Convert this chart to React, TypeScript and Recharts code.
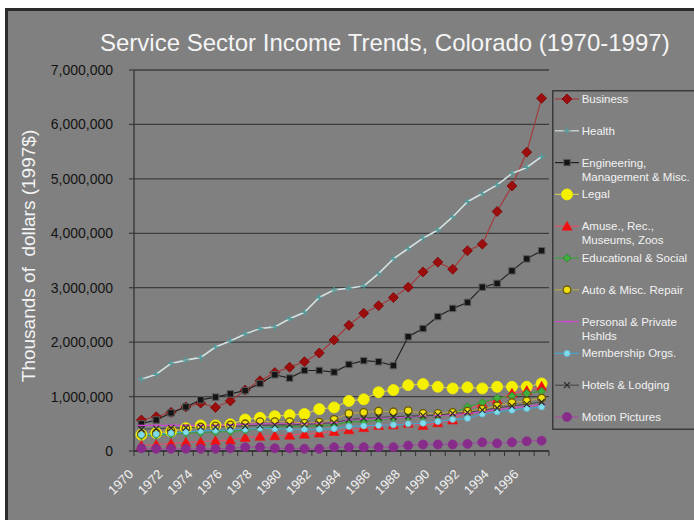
import React from 'react';
import { LineChart, Line, XAxis, YAxis, CartesianGrid, Legend } from 'recharts';

const years = [1970, 1971, 1972, 1973, 1974, 1975, 1976, 1977, 1978, 1979, 1980, 1981, 1982, 1983, 1984, 1985, 1986, 1987, 1988, 1989, 1990, 1991, 1992, 1993, 1994, 1995, 1996, 1997];
const xTickLabels = ['1970', '1972', '1974', '1976', '1978', '1980', '1982', '1984', '1986', '1988', '1990', '1992', '1994', '1996'];
const yTicks = [0, 1000000, 2000000, 3000000, 4000000, 5000000, 6000000, 7000000];

const business = [570000, 630000, 710000, 810000, 880000, 800000, 920000, 1120000, 1290000, 1440000, 1540000, 1640000, 1800000, 2040000, 2310000, 2530000, 2670000, 2820000, 3010000, 3290000, 3470000, 3340000, 3680000, 3800000, 4400000, 4870000, 5490000, 6480000];
const health = [1320000, 1410000, 1610000, 1670000, 1720000, 1910000, 2020000, 2150000, 2250000, 2280000, 2430000, 2550000, 2820000, 2960000, 2990000, 3030000, 3260000, 3530000, 3720000, 3910000, 4060000, 4300000, 4580000, 4730000, 4890000, 5100000, 5210000, 5410000];
const engineering = [500000, 570000, 700000, 810000, 940000, 990000, 1050000, 1110000, 1240000, 1400000, 1340000, 1480000, 1480000, 1450000, 1590000, 1660000, 1640000, 1570000, 2100000, 2250000, 2470000, 2620000, 2730000, 3010000, 3080000, 3310000, 3530000, 3680000];
const legal = [300000, 330000, 360000, 420000, 470000, 470000, 490000, 580000, 610000, 640000, 660000, 680000, 770000, 800000, 920000, 950000, 1080000, 1120000, 1210000, 1230000, 1180000, 1150000, 1170000, 1150000, 1180000, 1180000, 1180000, 1240000];
const amuse = [100000, 120000, 140000, 160000, 170000, 190000, 200000, 250000, 270000, 280000, 290000, 310000, 330000, 360000, 390000, 430000, 470000, 480000, 510000, 470000, 520000, 570000, 760000, 870000, 940000, 1060000, 1110000, 1190000];
const educational = [280000, 290000, 310000, 330000, 340000, 350000, 360000, 380000, 420000, 440000, 450000, 450000, 460000, 480000, 540000, 540000, 570000, 600000, 620000, 630000, 650000, 690000, 810000, 890000, 970000, 1010000, 1060000, 1100000];
const autoRepair = [310000, 330000, 370000, 410000, 440000, 460000, 480000, 500000, 540000, 540000, 540000, 510000, 530000, 580000, 690000, 710000, 730000, 720000, 740000, 690000, 690000, 710000, 730000, 770000, 830000, 890000, 920000, 970000];
const personal = [470000, 470000, 470000, 470000, 470000, 470000, 480000, 490000, 500000, 500000, 500000, 500000, 510000, 520000, 570000, 590000, 600000, 610000, 620000, 640000, 650000, 670000, 690000, 720000, 760000, 790000, 820000, 850000];
const membership = [300000, 310000, 330000, 350000, 370000, 380000, 390000, 400000, 420000, 410000, 400000, 400000, 400000, 410000, 450000, 460000, 470000, 480000, 500000, 510000, 540000, 580000, 600000, 680000, 720000, 750000, 780000, 810000];
const hotels = [400000, 410000, 420000, 430000, 440000, 440000, 450000, 460000, 470000, 480000, 480000, 490000, 500000, 520000, 580000, 600000, 620000, 630000, 640000, 650000, 660000, 690000, 710000, 750000, 790000, 830000, 860000, 900000];
const motion = [50000, 40000, 40000, 40000, 40000, 40000, 50000, 70000, 70000, 50000, 50000, 40000, 40000, 70000, 70000, 70000, 70000, 70000, 100000, 120000, 120000, 120000, 130000, 160000, 140000, 160000, 180000, 190000];

const seriesNames = ['Business', 'Health', 'Engineering, Management & Misc.', 'Legal', 'Amuse., Rec., Museums, Zoos', 'Educational & Social', 'Auto & Misc. Repair', 'Personal & Private Hshlds', 'Membership Orgs.', 'Hotels & Lodging', 'Motion Pictures'];
const legendLabels = ['Business', 'Health', 'Engineering,\nManagement & Misc.', 'Legal', 'Amuse., Rec.,\nMuseums, Zoos', 'Educational & Social', 'Auto & Misc. Repair', 'Personal & Private\nHshlds', 'Membership Orgs.', 'Hotels & Lodging', 'Motion Pictures'];

type Shape = 'diamond' | 'plus' | 'square' | 'bigcircle' | 'triangle' | 'greendiamond' | 'ring' | 'dash' | 'smallcircle' | 'cross' | 'circle';

interface SeriesDef {
  key: string;
  values: number[];
  line: string;
  lineWidth: number;
  shape: Shape;
  fill: string;
  stroke: string;
  size: number;
}

const series: SeriesDef[] = [
  { key: 'business', values: business, line: '#a33c3c', lineWidth: 1.2, shape: 'diamond', fill: '#9c0e0e', stroke: '#7a0505', size: 5 },
  { key: 'health', values: health, line: '#d2e2e2', lineWidth: 1.6, shape: 'plus', fill: 'none', stroke: '#4f9c9c', size: 3.5 },
  { key: 'engineering', values: engineering, line: '#1e1e1e', lineWidth: 1.1, shape: 'square', fill: '#141414', stroke: '#5a5a5a', size: 3.2 },
  { key: 'legal', values: legal, line: '#cfc45a', lineWidth: 1.2, shape: 'bigcircle', fill: '#f4f000', stroke: '#f4f000', size: 5.5 },
  { key: 'amuse', values: amuse, line: '#e0506a', lineWidth: 1.2, shape: 'triangle', fill: '#f01010', stroke: '#f01010', size: 5 },
  { key: 'educational', values: educational, line: '#3c9e3c', lineWidth: 1.2, shape: 'greendiamond', fill: '#3fae3f', stroke: '#2a8a2a', size: 4 },
  { key: 'auto', values: autoRepair, line: '#b2a449', lineWidth: 1.2, shape: 'ring', fill: '#f0e010', stroke: '#6a5808', size: 3.8 },
  { key: 'personal', values: personal, line: '#d048d0', lineWidth: 1.2, shape: 'dash', fill: 'none', stroke: '#d048d0', size: 4 },
  { key: 'membership', values: membership, line: '#44a4cc', lineWidth: 1.2, shape: 'smallcircle', fill: '#80dcec', stroke: '#60c0d8', size: 3 },
  { key: 'hotels', values: hotels, line: '#4a4a4a', lineWidth: 1.1, shape: 'cross', fill: 'none', stroke: '#2a2a2a', size: 3 },
  { key: 'motion', values: motion, line: '#a050a0', lineWidth: 1.2, shape: 'circle', fill: '#882c8c', stroke: '#882c8c', size: 4.5 },
];

const data = years.map((year, i) => {
  const row: Record<string, number> = { year };
  series.forEach((s) => {
    row[s.key] = s.values[i];
  });
  return row;
});

const xBoundaries = [...years.map((y) => y - 0.5), years[years.length - 1] + 0.5];

function Marker({ shape, cx, cy, fill, stroke, size }: { shape: Shape; cx: number; cy: number; fill: string; stroke: string; size: number }) {
  if (cx == null || cy == null || isNaN(cx) || isNaN(cy)) return <g />;
  switch (shape) {
    case 'diamond':
    case 'greendiamond':
      return <path d={`M${cx},${cy - size}L${cx + size},${cy}L${cx},${cy + size}L${cx - size},${cy}Z`} fill={fill} stroke={stroke} strokeWidth={0.8} />;
    case 'plus':
      return <path d={`M${cx - size},${cy}H${cx + size}M${cx},${cy - size}V${cy + size}`} stroke={stroke} strokeWidth={1.3} fill="none" />;
    case 'square':
      return <rect x={cx - size} y={cy - size} width={size * 2} height={size * 2} fill={fill} stroke={stroke} strokeWidth={1} />;
    case 'bigcircle':
    case 'circle':
    case 'smallcircle':
      return <circle cx={cx} cy={cy} r={size} fill={fill} stroke={stroke} strokeWidth={0.8} />;
    case 'ring':
      return <circle cx={cx} cy={cy} r={size} fill={fill} stroke={stroke} strokeWidth={1.3} />;
    case 'triangle':
      return <path d={`M${cx},${cy - size}L${cx + size},${cy + size * 0.8}L${cx - size},${cy + size * 0.8}Z`} fill={fill} stroke={stroke} strokeWidth={0.6} />;
    case 'dash':
      return <path d={`M${cx - size},${cy}H${cx + size}`} stroke={stroke} strokeWidth={1.5} fill="none" />;
    case 'cross':
      return <path d={`M${cx - size},${cy - size}L${cx + size},${cy + size}M${cx - size},${cy + size}L${cx + size},${cy - size}`} stroke={stroke} strokeWidth={1.2} fill="none" />;
    default:
      return <g />;
  }
}

const FONT = '"Liberation Sans", Arial, sans-serif';

function XTick(props: any) {
  const { x, y, payload } = props;
  const yr = String(payload.value + 0.5);
  if (!xTickLabels.includes(yr)) return <g />;
  const ty = y + 17;
  return (
    <text x={x} y={ty} transform={`rotate(-45 ${x} ${ty})`} textAnchor="end" fill="#f2f2f2" fontSize={13} fontFamily={FONT}>
      {yr}
    </text>
  );
}

function LegendBox() {
  return (
    <svg width={142} height={340} style={{ display: 'block', overflow: 'hidden' }}>
      <path d="M142,0.75 H0.75 V339.25 H142" fill="none" stroke="#3a3a3a" strokeWidth={1.5} />
      {series.map((s, i) => {
        const cy = 9 + i * 31.8;
        const lines = legendLabels[i].split('\n');
        return (
          <g key={s.key}>
            <line x1={3} y1={cy} x2={27} y2={cy} stroke={s.line} strokeWidth={1.2} />
            <Marker shape={s.shape} cx={15} cy={cy} fill={s.fill} stroke={s.stroke} size={s.size} />
            <text x={29.7} y={cy + 4} fill="#f2f2f2" fontSize={11.5} fontFamily={FONT}>
              {lines.map((ln, j) => (
                <tspan key={j} x={29.7} dy={j === 0 ? 0 : 14}>
                  {ln}
                </tspan>
              ))}
            </text>
          </g>
        );
      })}
    </svg>
  );
}

export default function App() {
  return (
    <div style={{ position: 'absolute', left: 0, top: 0, width: 694, height: 520, overflow: 'hidden', background: '#ffffff' }}>
      <div
        style={{
          position: 'absolute',
          left: 5,
          top: 8,
          width: 720,
          height: 540,
          background: '#808080',
          borderLeft: '3px solid #2b2b2b',
          borderTop: '3px solid #2b2b2b',
        }}
      />
      <svg width={694} height={520} style={{ position: 'absolute', left: 0, top: 0 }}>
        <text x={100} y={51} fill="#f4f4f4" fontSize={24} fontFamily={FONT}>
          Service Sector Income Trends, Colorado (1970-1997)
        </text>
        <text transform="translate(35,256) rotate(-90)" textAnchor="middle" fill="#f4f4f4" fontSize={19} fontFamily={FONT} style={{ whiteSpace: 'pre' }}>
          Thousands of  dollars (1997$)
        </text>
      </svg>
      <div style={{ position: 'absolute', left: 0, top: 0 }}>
        <LineChart width={694} height={520} data={data} margin={{ top: 70, right: 145, bottom: 9, left: 54 }}>
          <CartesianGrid vertical={false} stroke="#3e3e3e" strokeWidth={1.3} />
          <XAxis
            dataKey="year"
            type="number"
            domain={[xBoundaries[0], xBoundaries[xBoundaries.length - 1]]}
            ticks={xBoundaries}
            interval={0}
            height={60}
            tickSize={5}
            tick={<XTick />}
            axisLine={{ stroke: '#333333', strokeWidth: 1.3 }}
            tickLine={{ stroke: '#333333', strokeWidth: 1 }}
          />
          <YAxis
            type="number"
            domain={[0, 7000000]}
            ticks={yTicks}
            interval={0}
            width={80}
            tickSize={5}
            tickMargin={16}
            tickFormatter={(v: number) => v.toLocaleString('en-US')}
            tick={{ fill: '#141414', fontSize: 14, fontFamily: FONT }}
            axisLine={{ stroke: '#333333', strokeWidth: 1.3 }}
            tickLine={{ stroke: '#3e3e3e', strokeWidth: 1.3 }}
          />
          {series.map((s, idx) => (
            <Line
              key={s.key}
              dataKey={s.key}
              name={seriesNames[idx]}
              type="linear"
              stroke={s.line}
              strokeWidth={s.lineWidth}
              isAnimationActive={false}
              activeDot={false}
              dot={(p: any) => (
                <Marker key={`${s.key}-${p.index}`} shape={s.shape} cx={p.cx} cy={p.cy} fill={s.fill} stroke={s.stroke} size={s.size} />
              )}
            />
          ))}
          <Legend
            layout="horizontal"
            verticalAlign="middle"
            align="center"
            wrapperStyle={{ position: 'absolute', left: 552, top: 90, width: 142, height: 340, margin: 0, padding: 0 }}
            content={() => <LegendBox />}
          />
        </LineChart>
      </div>
    </div>
  );
}
